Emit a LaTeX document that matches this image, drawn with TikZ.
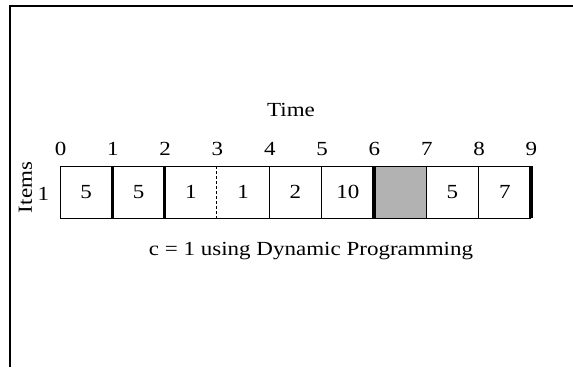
\documentclass[tikz,border=0pt]{standalone}
\usepackage{fontspec}
\setmainfont[FakeStretch=1.15]{Liberation Serif}
\begin{document}
\begin{tikzpicture}[x=1pt,y=-1pt,
  font=\fontsize{20}{24}\selectfont,
  cell/.style={minimum width=52.33pt,minimum height=52pt,inner sep=0pt,outer sep=0pt},
  thinline/.style={line width=1pt},
  thickline/.style={line width=3.2pt},
  dashline/.style={line width=1pt,dash pattern=on 3pt off 2pt},
  lab/.style={inner sep=0pt}]
\useasboundingbox (0,0) rectangle (573,367);
\draw[line width=1.1pt] (10,367) -- (10,6) -- (573,6);
\foreach \v [count=\i from 0] in {5,5,1,1,2,10,{},5,7}{
  \node[cell] (c\i) at ({60+52.33*\i+26.17},192) {\v};
}
\fill[gray!60] (c6.north west) rectangle (c6.south east);
\foreach \i in {0,...,9}{
  \node[lab,anchor=base] (t\i) at ({60+52.33*\i+0.5},155) {\i};
}
\draw[thinline] (c0.north west) -- (c8.north east);
\draw[thinline] (c0.south west) -- (c8.south east);
\draw[thinline] (c0.north west) -- (c0.south west);
\draw[thickline] (c0.north east) -- (c0.south east);
\draw[thickline] (c1.north east) -- (c1.south east);
\draw[dashline] (c2.north east) -- (c2.south east);
\draw[thinline] (c3.north east) -- (c3.south east);
\draw[thinline] (c4.north east) -- (c4.south east);
\draw[thickline] (c5.north east) -- (c5.south east);
\draw[thinline] (c6.north east) -- (c6.south east);
\draw[thinline] (c7.north east) -- (c7.south east);
\draw[thickline] (c8.north east) -- (c8.south east);
\node[lab,anchor=base] (time) at (291,116.7) {Time};
\node[lab,rotate=90] (items) at (25.5,187.5) {Items};
\node[lab,anchor=base] (one) at (43.5,200) {1};
\node[lab,anchor=base] (cap) at (311,255) {c = 1 using Dynamic Programming};
\end{tikzpicture}
\end{document}
